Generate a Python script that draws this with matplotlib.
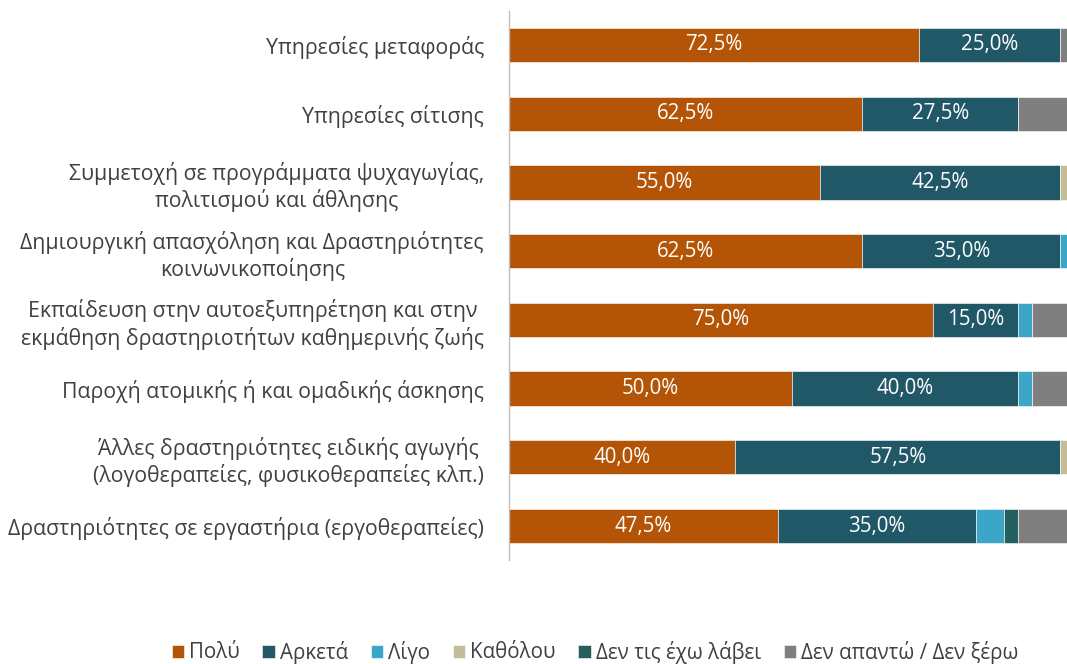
import matplotlib
matplotlib.use("Agg")
import matplotlib.pyplot as plt
import numpy as np

plt.rcParams['font.family'] = ['Open Sans', 'DejaVu Sans']

categories = [
    "Υπηρεσίες μεταφοράς",
    "Υπηρεσίες σίτισης",
    "Συμμετοχή σε προγράμματα ψυχαγωγίας,\nπολιτισμού και άθλησης",
    "Δημιουργική απασχόληση και Δραστηριότητες\nκοινωνικοποίησης",
    "Εκπαίδευση στην αυτοεξυπηρέτηση και στην\nεκμάθηση δραστηριοτήτων καθημερινής ζωής",
    "Παροχή ατομικής ή και ομαδικής άσκησης",
    "Άλλες δραστηριότητες ειδικής αγωγής\n(λογοθεραπείες, φυσικοθεραπείες κλπ.)",
    "Δραστηριότητες σε εργαστήρια (εργοθεραπείες)",
]

series_names = ["Πολύ", "Αρκετά", "Λίγο", "Καθόλου", "Δεν τις έχω λάβει", "Δεν απαντώ / Δεν ξέρω"]
poly     = [72.5, 62.5, 55.0, 62.5, 75.0, 50.0, 40.0, 47.5]
arketa   = [25.0, 27.5, 42.5, 35.0, 15.0, 40.0, 57.5, 35.0]
ligo     = [0.0, 0.0, 0.0, 2.5, 2.5, 2.5, 0.0, 5.0]
katholou = [0.0, 0.0, 2.5, 0.0, 0.0, 0.0, 2.5, 0.0]
den_elava = [0.0, 0.0, 0.0, 0.0, 0.0, 0.0, 0.0, 2.5]
den_apanto = [2.5, 10.0, 0.0, 0.0, 7.5, 7.5, 0.0, 10.0]

colors = ["#B35406", "#215868", "#3CA6C8", "#C4BD97", "#23605F", "#7F7F7F"]

series = [poly, arketa, ligo, katholou, den_elava, den_apanto]

fig = plt.figure(figsize=(10.67, 6.64), dpi=100)
ax = fig.add_axes([509 / 1067, 1 - 560.4 / 664, (1074.5 - 509) / 1067, (560.4 - 10.6) / 664])

y = np.arange(len(categories))
left = np.zeros(len(categories))
for name, vals, col in zip(series_names, series, colors):
    vals = np.array(vals)
    ax.barh(y, vals, left=left, height=0.5, color=col, label=name,
            edgecolor="white", linewidth=0.4)
    if name in ("Πολύ", "Αρκετά"):
        for yi, l, v in zip(y, left, vals):
            if v > 0:
                ax.text(l + v / 2, yi, f"{v:.1f}%".replace(".", ","),
                        ha="center", va="center", color="white", fontsize=14.8)
    left = left + vals

ax.set_xlim(0, 100)
ax.set_ylim(len(categories) - 0.5, -0.5)
ax.set_yticks(y)
ax.set_yticklabels(categories, fontsize=15.3, color="#404040", multialignment="center",
                   linespacing=1.25)
ax.tick_params(axis="y", length=0, pad=18)
ax.set_xticks([])
for s in ["top", "right", "bottom"]:
    ax.spines[s].set_visible(False)
ax.spines["left"].set_color("#BFBFBF")
ax.spines["left"].set_linewidth(1)

handles, labels = ax.get_legend_handles_labels()
fig.legend(handles, labels, loc="center", bbox_to_anchor=(595 / 1067, 1 - 652 / 664),
           ncol=6, frameon=False, fontsize=14.8, handlelength=0.6, handleheight=0.6,
           handletextpad=0.25, columnspacing=1.1, labelcolor="#404040")

fig.savefig("out.png", dpi=100)
